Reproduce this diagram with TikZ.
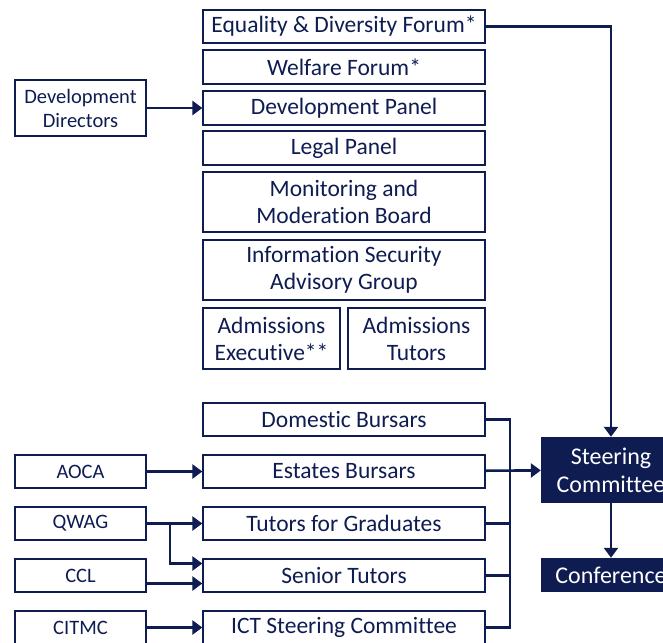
\documentclass[tikz,border=0pt]{standalone}
\usepackage{fontspec}
\setmainfont{Carlito}[Ligatures={NoCommon,NoContextual,NoRequired}, RawFeature={-dlig;-calt}]
\usetikzlibrary{arrows.meta}
\definecolor{navy}{RGB}{14,28,82}
\begin{document}
\begin{tikzpicture}[x=1pt, y=-1pt, >={Triangle[length=10pt,width=14pt]},
  every box/.style={draw=navy, line width=1.3pt, text=navy, inner sep=0pt, align=center,
    font=\fontsize{23.5}{27}\selectfont},
  main/.style={every box, minimum width=282pt},
  side/.style={every box, minimum width=131pt, font=\fontsize{20.5}{24}\selectfont},
  dark/.style={fill=navy, text=white, inner sep=0pt, align=center, minimum width=140pt,
    font=\fontsize{24}{28}\selectfont},
  link/.style={navy, line width=2.6pt}]
\clip (0,0) rectangle (663,642);
% upper column
\node [main, minimum height=33pt] (equality) at (344,26.5) {Equality \& Diversity Forum*};
\node [main, minimum height=34pt] (welfare) at (344,67) {Welfare Forum*};
\node [main, minimum height=34pt] (devpanel) at (344,108) {Development Panel};
\node [main, minimum height=34pt] (legal) at (344,148) {Legal Panel};
\node [main, minimum height=60pt] (monitor) at (344,202) {Monitoring and\\Moderation Board};
\node [main, minimum height=60pt] (infosec) at (344,270) {Information Security\\Advisory Group};
\node [every box, minimum width=137pt, minimum height=61pt] (admexec) at (271.5,338.5) {Admissions\\Executive**};
\node [every box, minimum width=137pt, minimum height=61pt] (admtut) at (416.5,338.5) {Admissions\\Tutors};
\node [side, minimum height=56pt] (devdir) at (80.5,108) {Development\\Directors};
% lower column
\foreach \n/\t [count=\i from 0] in {domestic/Domestic Bursars, estates/Estates Bursars,
    tutgrad/Tutors for Graduates, senior/Senior Tutors, ict/ICT Steering Committee}
  \node [main, minimum height=33pt] (\n) at (344,419.5+52*\i) {\t};
\foreach \n/\t [count=\i from 1] in {aoca/AOCA, qwag/QWAG, ccl/CCL, citmc/CITMC}
  \node [side, minimum height=33pt] (\n) at (80.5,419.5+52*\i) {\t};
\node [dark, minimum height=66pt] (steering) at (611,470) {Steering\\Committee};
\node [dark, minimum height=34pt] (conference) at (611,575) {Conference};
% connectors
\coordinate (bus) at (510,0);
\coordinate (fork) at (170,523.5);
\draw [link, ->] (devdir) -- (devpanel);
\draw [link, ->] (equality) -| (steering);
\draw [link] (domestic.east) -- (domestic.east -| bus) -- (ict.east -| bus) -- (ict.east);
\foreach \n in {tutgrad, senior}
  \draw [link] (\n.east) -- (\n.east -| bus);
\draw [link, ->] (estates) -- (steering);
\draw [link, ->] (steering) -- (conference);
\draw [link, ->] (aoca) -- (estates);
\draw [link, ->] (qwag) -- (tutgrad);
\draw [link, ->] (fork) |- ([yshift=12pt]senior.west);
\draw [link, ->] ([yshift=-8pt]ccl.east) -- ([yshift=-8pt]senior.west);
\draw [link, ->] (citmc) -- (ict);
\end{tikzpicture}
\end{document}
